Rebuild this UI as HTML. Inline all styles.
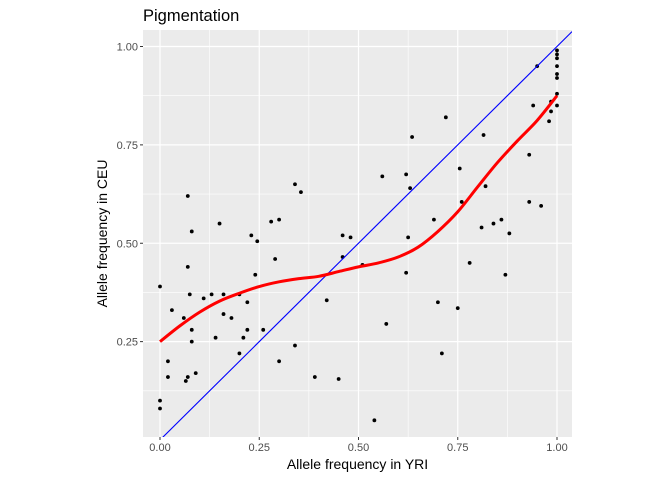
<!DOCTYPE html>
<html><head><meta charset="utf-8"><style>
body{margin:0;background:#fff;}
svg text{font-family:"Liberation Sans",sans-serif;}
</style></head><body>
<svg id="c" width="672" height="480"></svg>
<script>
const pts=[[0.00,0.39],[0.00,0.10],[0.00,0.08],[0.02,0.16],[0.02,0.20],[0.03,0.33],[0.06,0.31],[0.065,0.15],[0.07,0.16],[0.07,0.62],[0.07,0.44],[0.075,0.37],[0.08,0.28],[0.08,0.25],[0.08,0.53],[0.09,0.17],[0.11,0.36],[0.13,0.37],[0.14,0.26],[0.15,0.55],[0.16,0.32],[0.16,0.37],[0.18,0.31],[0.20,0.37],[0.20,0.22],[0.21,0.26],[0.22,0.28],[0.22,0.35],[0.23,0.52],[0.24,0.42],[0.245,0.505],[0.26,0.28],[0.28,0.555],[0.29,0.46],[0.30,0.56],[0.30,0.20],[0.34,0.24],[0.34,0.65],[0.355,0.63],[0.39,0.16],[0.42,0.355],[0.45,0.155],[0.46,0.52],[0.46,0.465],[0.48,0.515],[0.51,0.445],[0.54,0.05],[0.56,0.67],[0.57,0.295],[0.62,0.675],[0.62,0.425],[0.625,0.515],[0.63,0.64],[0.635,0.77],[0.69,0.56],[0.70,0.35],[0.71,0.22],[0.72,0.82],[0.75,0.335],[0.755,0.69],[0.76,0.605],[0.78,0.45],[0.81,0.54],[0.815,0.775],[0.82,0.645],[0.84,0.55],[0.86,0.56],[0.87,0.42],[0.88,0.525],[0.93,0.605],[0.93,0.725],[0.94,0.85],[0.95,0.95],[0.96,0.595],[0.98,0.81],[0.985,0.835],[0.985,0.86],[1.0,0.99],[1.0,0.98],[1.0,0.97],[1.0,0.95],[1.0,0.93],[1.0,0.92],[1.0,0.88],[1.0,0.85]];
const smoothX=[0,0.05,0.1,0.15,0.2,0.25,0.3,0.35,0.4,0.45,0.5,0.55,0.6,0.65,0.7,0.75,0.8,0.85,0.9,0.95,1.0];
const smoothY=[0.25,0.29,0.325,0.353,0.373,0.39,0.402,0.41,0.416,0.428,0.44,0.45,0.465,0.49,0.53,0.58,0.643,0.705,0.76,0.812,0.875];
const xTicks=[0,0.25,0.5,0.75,1];
const xTickLabels=["0.00","0.25","0.50","0.75","1.00"];
const yTicks=[0.25,0.5,0.75,1];
const yTickLabels=["0.25","0.50","0.75","1.00"];
const L=143,R=572,T=30,B=437;
const X=v=>160+v*397, Y=v=>440-v*393.5;
const xMin=(L-160)/397, xMax=(R-160)/397;
const svg=document.getElementById('c');const NS='http://www.w3.org/2000/svg';
function mk(t,a,p){const e=document.createElementNS(NS,t);for(const k in a)e.setAttribute(k,a[k]);(p||svg).appendChild(e);return e;}
let e=mk('rect',{x:L,y:T,width:R-L,height:B-T,fill:'#ebebeb'});


[0.125,0.375,0.625,0.875].forEach(v=>{e=mk('line',{x1:L,x2:R,y1:Y(v),y2:Y(v),stroke:'#fff','stroke-width':0.6});


e=mk('line',{x1:X(v),x2:X(v),y1:T,y2:B,stroke:'#fff','stroke-width':0.6});

});
yTicks.forEach((v,i)=>{e=mk('line',{x1:L,x2:R,y1:Y(v),y2:Y(v),stroke:'#fff','stroke-width':1.2});


e=mk('line',{x1:L-3,x2:L,y1:Y(v),y2:Y(v),stroke:'#333','stroke-width':1});


e=mk('text',{x:L-5,y:Y(v)+4,'text-anchor':'end','font-size':11,fill:'#4d4d4d'});e.textContent=yTickLabels[i];

});
xTicks.forEach((v,i)=>{e=mk('line',{x1:X(v),x2:X(v),y1:T,y2:B,stroke:'#fff','stroke-width':1.2});


e=mk('line',{x1:X(v),x2:X(v),y1:B,y2:B+3,stroke:'#333','stroke-width':1});


e=mk('text',{x:X(v),y:B+14,'text-anchor':'middle','font-size':11,fill:'#4d4d4d'});e.textContent=xTickLabels[i];

});
const g=mk('g',{'clip-path':'url(#cp)'});
const cp=mk('clipPath',{id:'cp'});mk('rect',{x:L,y:T,width:R-L,height:B-T},cp);
pts.forEach(p=>{e=mk('circle',{cx:X(p[0]),cy:Y(p[1]),r:1.9,fill:'#000'},g);

});
e=mk('line',{x1:X(xMin),y1:Y(xMin),x2:X(xMax),y2:Y(xMax),stroke:'#0000ff','stroke-width':1.1},g);


const P=smoothX.map((x,i)=>[X(x),Y(smoothY[i])]);
let d='M'+P[0][0]+','+P[0][1];
for(let i=0;i<P.length-1;i++){const p0=P[Math.max(0,i-1)],p1=P[i],p2=P[i+1],p3=P[Math.min(P.length-1,i+2)];
d+=` C${p1[0]+(p2[0]-p0[0])/6},${p1[1]+(p2[1]-p0[1])/6} ${p2[0]-(p3[0]-p1[0])/6},${p2[1]-(p3[1]-p1[1])/6} ${p2[0]},${p2[1]}`;}
e=mk('path',{d:d,fill:'none',stroke:'#ff0000','stroke-width':3,'stroke-linejoin':'round'},g);


e=mk('text',{x:L,y:21,'font-size':16.5,fill:'#000'});e.textContent='Pigmentation';


e=mk('text',{x:(L+R)/2,y:469,'text-anchor':'middle','font-size':14,fill:'#000'});e.textContent='Allele frequency in YRI';


e=mk('text',{x:0,y:0,'text-anchor':'middle','font-size':14,fill:'#000',transform:`translate(107,${(T+B)/2}) rotate(-90)`});e.textContent='Allele frequency in CEU';


</script>
</body></html>
